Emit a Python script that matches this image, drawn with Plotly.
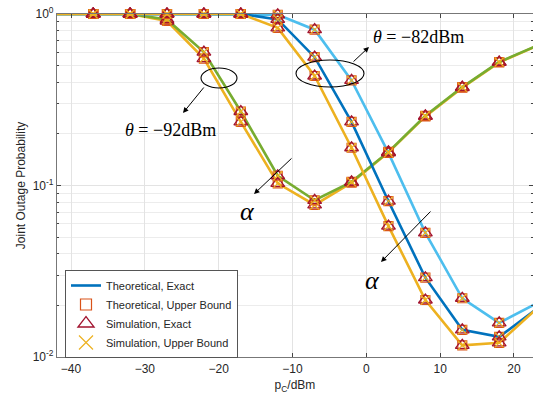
import plotly.graph_objects as go

# ---- data ----
p_c = [-42, -37, -32, -27, -22, -17, -12, -7, -2, 3, 8, 13, 18, 23]
green_92 = [1, 1, 1, 0.93, 0.60, 0.27, 0.114, 0.082, 0.105, 0.157, 0.255, 0.375, 0.525, 0.65]
yellow_92 = [1, 1, 1, 0.91, 0.55, 0.235, 0.103, 0.077, 0.104, 0.156, 0.253, 0.372, 0.522, 0.648]
yellow_82 = [1, 1, 1, 1, 1, 1, 0.83, 0.435, 0.166, 0.058, 0.0215, 0.0117, 0.0121, 0.019]
blue_82 = [1, 1, 1, 1, 1, 1, 0.93, 0.56, 0.235, 0.081, 0.029, 0.0144, 0.0131, 0.019]
lblue_82 = [1, 1, 1, 1, 1, 1, 0.99, 0.81, 0.41, 0.155, 0.053, 0.022, 0.0158, 0.0205]

y_tickvals = [0.01, 0.1, 1]
y_ticktext = ["10<sup>-2</sup>", "10<sup>-1</sup>", "10<sup>0</sup>"]
x_tickvals = [-40, -30, -20, -10, 0, 10, 20]

legend_names = ["Theoretical, Exact", "Theoretical, Upper Bound",
                "Simulation, Exact", "Simulation, Upper Bound"]

C_BLUE = "#0072BD"
C_LBLUE = "#4DBEEE"
C_YEL = "#EDB120"
C_GREEN = "#77AC30"
C_ORANGE = "#D95319"
C_RED = "#A2142F"

W, H = 533, 399
L, R, T, B = 57, 0, 14, 42
PW, PH = W - L - R, H - T - B


def px(x):
    return (x - L) / PW


def py(y):
    return (H - B - y) / PH


fig = go.Figure()

curves = [(yellow_92, C_YEL), (green_92, C_GREEN), (lblue_82, C_LBLUE),
          (blue_82, C_BLUE), (yellow_82, C_YEL)]
for vals, col in curves:
    fig.add_trace(go.Scatter(x=p_c, y=vals, mode="lines",
                             line=dict(color=col, width=2.6),
                             showlegend=False, cliponaxis=False))

for vals, col in curves:
    fig.add_trace(go.Scatter(x=p_c, y=vals, mode="markers",
                             marker=dict(symbol="square-open", size=9, color=C_ORANGE,
                                         line=dict(width=1.2, color=C_ORANGE)),
                             showlegend=False, cliponaxis=False))
    fig.add_trace(go.Scatter(x=p_c, y=vals, mode="markers",
                             marker=dict(symbol="triangle-up-open", size=12, color=C_RED,
                                         line=dict(width=1.3, color=C_RED)),
                             showlegend=False, cliponaxis=False))
    fig.add_trace(go.Scatter(x=p_c, y=vals, mode="markers",
                             marker=dict(symbol="x-thin-open", size=9, color=C_YEL,
                                         line=dict(width=1.2, color=C_YEL)),
                             showlegend=False, cliponaxis=False))

# legend entries
fig.add_trace(go.Scatter(x=[None], y=[None], mode="lines", name=legend_names[0],
                         line=dict(color=C_BLUE, width=2.6)))
fig.add_trace(go.Scatter(x=[None], y=[None], mode="markers", name=legend_names[1],
                         marker=dict(symbol="square-open", size=11, color=C_ORANGE,
                                     line=dict(width=1.2, color=C_ORANGE))))
fig.add_trace(go.Scatter(x=[None], y=[None], mode="markers", name=legend_names[2],
                         marker=dict(symbol="triangle-up-open", size=14, color=C_RED,
                                     line=dict(width=1.3, color=C_RED))))
fig.add_trace(go.Scatter(x=[None], y=[None], mode="markers", name=legend_names[3],
                         marker=dict(symbol="x-thin-open", size=14, color=C_YEL,
                                     line=dict(width=1.2, color=C_YEL))))

# ellipses
shapes = []
for (x0, y0, x1, y1) in [(201, 68, 237, 88), (296, 60, 364, 87)]:
    shapes.append(dict(type="circle", xref="paper", yref="paper",
                       x0=px(x0), x1=px(x1), y0=py(y1), y1=py(y0),
                       line=dict(color="black", width=1.1)))

annotations = []
# arrows: (tail, head)
for (tx, ty, hx, hy) in [(205, 86, 183, 113), (352, 63, 369, 47),
                         (293, 157, 254, 194), (432, 210, 381, 262)]:
    annotations.append(dict(xref="paper", yref="paper", x=px(hx), y=py(hy),
                            ax=tx - hx, ay=ty - hy, text="", showarrow=True,
                            arrowhead=2, arrowsize=1.1, arrowwidth=1,
                            arrowcolor="black"))
serif = "Liberation Serif, Times New Roman, serif"
for (cx, cy, txt, sz) in [(170, 130, "<i>θ</i> = −92dBm", 18),
                          (418, 37, "<i>θ</i> = −82dBm", 18),
                          (247, 212, "<i>α</i>", 26),
                          (372, 280, "<i>α</i>", 26)]:
    annotations.append(dict(xref="paper", yref="paper", x=px(cx), y=py(cy),
                            xanchor="center", yanchor="middle",
                            text=txt, showarrow=False,
                            font=dict(family=serif, size=sz, color="black")))

sans = "Liberation Sans, Arial, sans-serif"
fig.update_layout(
    width=W, height=H,
    margin=dict(l=L, r=R, t=T, b=B, autoexpand=False),
    paper_bgcolor="white", plot_bgcolor="white",
    font=dict(family=sans, size=12, color="#262626"),
    shapes=shapes, annotations=annotations,
    legend=dict(x=px(65), y=py(270), xanchor="left", yanchor="top",
                bgcolor="white", bordercolor="#555555", borderwidth=1,
                font=dict(family=sans, size=11, color="#262626"),
                tracegroupgap=0, itemwidth=30),
    showlegend=True,
)
fig.update_xaxes(range=[-41.9, 22.58], tickvals=x_tickvals, automargin=False,
                 ticks="inside", ticklen=4, tickcolor="#444444",
                 showline=True, linecolor="#777777", linewidth=1.2, mirror="ticks",
                 showgrid=True, gridcolor="#e3e3e3", gridwidth=1, zeroline=False,
                 tickfont=dict(size=12),
                 title=dict(text="p<sub>C</sub>/dBm", font=dict(size=12), standoff=6))
fig.update_yaxes(type="log", range=[-2, 0], tickvals=y_tickvals, ticktext=y_ticktext,
                 automargin=False,
                 ticks="inside", ticklen=4, tickcolor="#444444",
                 showline=True, linecolor="#777777", linewidth=1.2, mirror="ticks",
                 showgrid=True, gridcolor="#e3e3e3", gridwidth=1, zeroline=False,
                 tickfont=dict(size=12),
                 minor=dict(dtick="D1", showgrid=True, gridcolor="#ececec",
                            ticks="inside", ticklen=2, tickcolor="#444444"),
                 title=dict(text="Joint Outage Probability", font=dict(size=12), standoff=4))

fig.write_html("out.html", config={"displayModeBar": False},
               post_script="document.body.style.margin='0';document.body.style.overflow='hidden';")
